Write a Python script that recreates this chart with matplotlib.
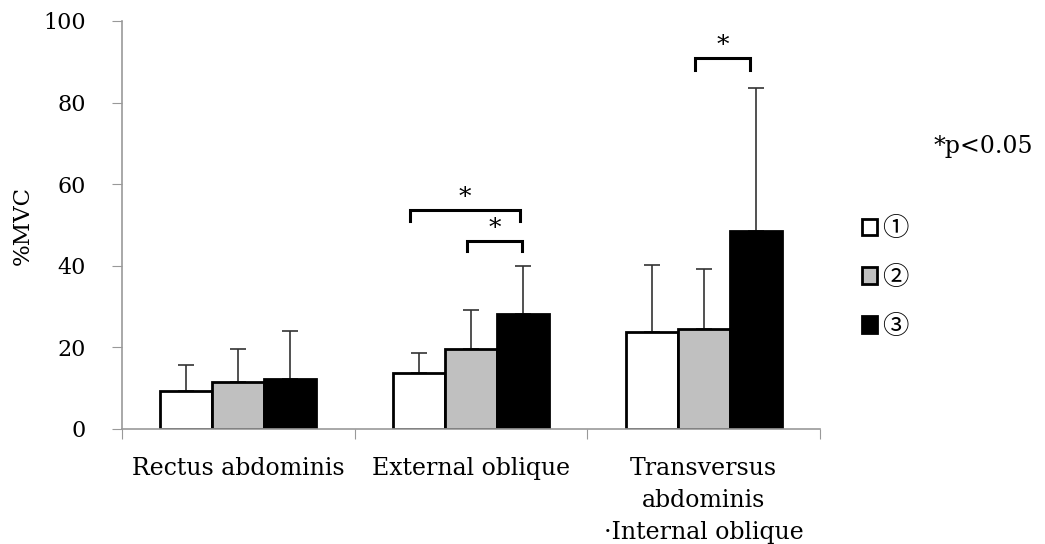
import matplotlib
matplotlib.use("Agg")
import matplotlib.pyplot as plt
from matplotlib.patches import Patch
import numpy as np

plt.rcParams['font.family'] = ['DejaVu Serif', 'Noto Sans CJK JP']

# Muscle activity (%MVC), mean and SD for the three conditions
muscles = ["Rectus abdominis", "External oblique",
           "Transversus\nabdominis\n\u00b7Internal oblique"]
conditions = ["\u2460", "\u2461", "\u2462"]
means = {
    "\u2460": [9.2, 13.7, 23.8],
    "\u2461": [11.5, 19.6, 24.5],
    "\u2462": [12.3, 28.3, 48.5],
}
sds = {
    "\u2460": [6.5, 4.9, 16.4],
    "\u2461": [8.1, 9.6, 14.7],
    "\u2462": [11.6, 11.6, 35.2],
}
colors = {"\u2460": "white", "\u2461": "#c0c0c0", "\u2462": "black"}
yticks = [0, 20, 40, 60, 80, 100]

# Significant pairs: (group, start offset, end offset, bracket top, leg bottom)
brackets = [
    (1, -0.264, 0.21, 53.7, 51.0),
    (1, -0.019, 0.221, 46.1, 43.6),
    (2, -0.036, 0.20, 90.9, 88.0),
]

fig = plt.figure(figsize=(10.45, 5.44), dpi=100)
ax = fig.add_axes([0.1167, 0.2114, 0.668, 0.75])

x = np.arange(len(muscles))
w = 0.223
for i, c in enumerate(conditions):
    pos = x + (i - 1) * w
    ax.bar(pos, means[c], width=w, color=colors[c], edgecolor="black",
           linewidth=2, zorder=2)
    ax.errorbar(pos, means[c], yerr=[np.zeros(len(muscles)), sds[c]],
                fmt="none", ecolor="#333333", elinewidth=1.2, capsize=6,
                capthick=1.2, zorder=1)

for g, a, b, top, bot in brackets:
    xa, xb = g + a, g + b
    ax.plot([xa, xa, xb, xb], [bot, top, top, bot], color="black",
            lw=2.2, solid_joinstyle="miter", zorder=3)
    ax.text((xa + xb) / 2, top + 0.2, "*", ha="center", va="bottom",
            fontsize=18)

ax.set_xlim(-0.5, 2.5)
ax.set_ylim(0, 100)
ax.set_yticks(yticks)
ax.tick_params(axis="y", direction="out", length=7, color="#999999",
               labelsize=16, pad=19)
ax.set_xticks([-0.5, 0.5, 1.5, 2.5])
ax.set_xticklabels([])
ax.tick_params(axis="x", which="major", direction="out", length=7,
               color="#999999")
ax.set_xticks(x, minor=True)
ax.set_xticklabels(muscles, minor=True, fontsize=17, linespacing=1.5)
ax.tick_params(axis="x", which="minor", length=0, pad=20)

for s in ["top", "right"]:
    ax.spines[s].set_visible(False)
for s in ["left", "bottom"]:
    ax.spines[s].set_color("#999999")
    ax.spines[s].set_linewidth(1.2)

ax.set_ylabel("%MVC", fontsize=16.5, labelpad=7)

handles = [Patch(facecolor=colors[c], edgecolor="black", linewidth=2)
           for c in conditions]
fig.legend(handles, conditions, loc="center left",
           bbox_to_anchor=(0.802, 0.49), frameon=False, fontsize=19,
           handlelength=0.58, handleheight=0.58, handletextpad=0.2,
           labelspacing=0.9)

fig.text(0.893, 0.73, "*p<0.05", fontsize=17, ha="left", va="center")

fig.savefig("out.png", dpi=100)
